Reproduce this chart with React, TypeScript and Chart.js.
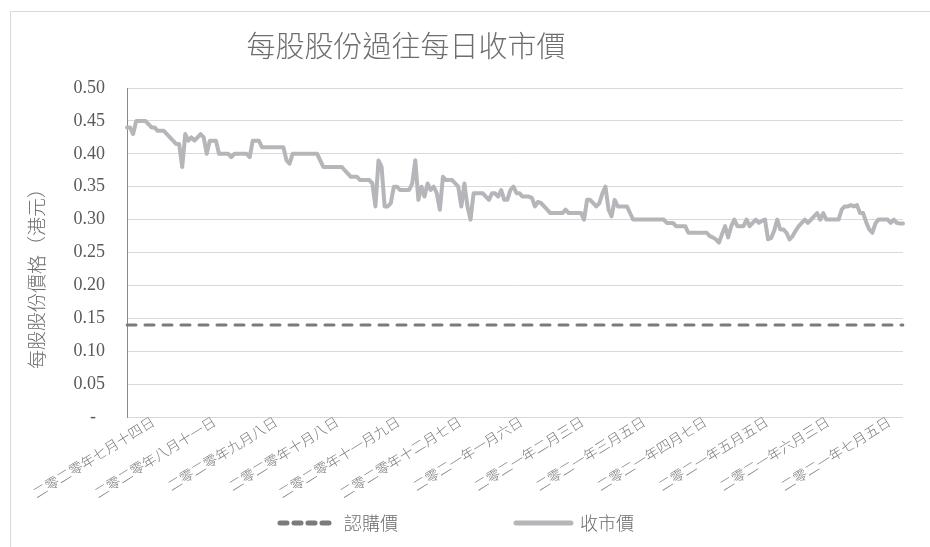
import React, { useEffect, useRef } from 'react';
import { Chart, registerables } from 'chart.js';

Chart.register(...registerables);

const CHART_TITLE = '每股股份過往每日收市價';
const Y_TITLE = '每股股份價格（港元）';
const SUBSCRIPTION_NAME = '認購價';
const CLOSING_NAME = '收市價';
const SUBSCRIPTION_PRICE = 0.14;

const TICK_EVERY = 20;
const TICK_LABELS = [
  '二零二零年七月十四日',
  '二零二零年八月十一日',
  '二零二零年九月八日',
  '二零二零年十月八日',
  '二零二零年十一月九日',
  '二零二零年十二月七日',
  '二零二一年一月六日',
  '二零二一年二月三日',
  '二零二一年三月五日',
  '二零二一年四月七日',
  '二零二一年五月五日',
  '二零二一年六月三日',
  '二零二一年七月五日',
];

const CLOSING_PRICES = [
  0.44, 0.44, 0.43, 0.45, 0.45, 0.45, 0.45, 0.445, 0.44, 0.44,
  0.435, 0.435, 0.435, 0.43, 0.425, 0.42, 0.415, 0.415, 0.38, 0.43,
  0.42, 0.425, 0.42, 0.425, 0.43, 0.425, 0.40, 0.42, 0.42, 0.42,
  0.40, 0.40, 0.40, 0.40, 0.395, 0.40, 0.40, 0.40, 0.40, 0.40,
  0.395, 0.42, 0.42, 0.42, 0.41, 0.41, 0.41, 0.41, 0.41, 0.41,
  0.41, 0.41, 0.39, 0.385, 0.40, 0.40, 0.40, 0.40, 0.40, 0.40,
  0.40, 0.40, 0.40, 0.39, 0.38, 0.38, 0.38, 0.38, 0.38, 0.38,
  0.38, 0.375, 0.37, 0.365, 0.365, 0.365, 0.36, 0.36, 0.36, 0.36,
  0.355, 0.32, 0.39, 0.38, 0.32, 0.32, 0.325, 0.35, 0.35, 0.345,
  0.345, 0.345, 0.345, 0.355, 0.39, 0.33, 0.35, 0.335, 0.355, 0.345,
  0.35, 0.34, 0.315, 0.365, 0.36, 0.36, 0.36, 0.355, 0.35, 0.32,
  0.355, 0.32, 0.30, 0.34, 0.34, 0.34, 0.34, 0.335, 0.33, 0.34,
  0.34, 0.335, 0.345, 0.33, 0.33, 0.345, 0.35, 0.34, 0.34, 0.335,
  0.335, 0.335, 0.333, 0.32, 0.327, 0.325, 0.32, 0.315, 0.31, 0.31,
  0.31, 0.31, 0.31, 0.315, 0.31, 0.31, 0.31, 0.31, 0.31, 0.30,
  0.33, 0.33, 0.325, 0.32, 0.325, 0.34, 0.35, 0.315, 0.305, 0.33,
  0.32, 0.32, 0.32, 0.32, 0.31, 0.30, 0.30, 0.30, 0.30, 0.30,
  0.30, 0.30, 0.30, 0.30, 0.30, 0.30, 0.295, 0.295, 0.295, 0.29,
  0.29, 0.29, 0.29, 0.28, 0.28, 0.28, 0.28, 0.28, 0.28, 0.28,
  0.275, 0.273, 0.27, 0.265, 0.278, 0.29, 0.273, 0.29, 0.30, 0.29,
  0.29, 0.29, 0.30, 0.29, 0.295, 0.30, 0.295, 0.298, 0.30, 0.27,
  0.272, 0.283, 0.30, 0.285, 0.285, 0.28, 0.27, 0.275, 0.283, 0.29,
  0.295, 0.30, 0.295, 0.30, 0.305, 0.31, 0.30, 0.31, 0.30, 0.30,
  0.30, 0.30, 0.30, 0.315, 0.32, 0.32, 0.322, 0.32, 0.322, 0.31,
  0.31, 0.296, 0.285, 0.28, 0.294, 0.30, 0.30, 0.30, 0.30, 0.295,
  0.30, 0.295, 0.294, 0.294,
];

const Y_MIN = 0;
const Y_MAX = 0.5;
const Y_STEP = 0.05;

const CJK = '"Noto Sans CJK TC", "Noto Sans CJK SC", "Noto Sans", sans-serif';
const SERIF = '"Liberation Serif", "Times New Roman", serif';

const CANVAS_W = 920;
const CANVAS_H = 536;

const titlesPlugin = {
  id: 'customTitles',
  afterDraw(chart: any) {
    const { ctx, chartArea } = chart;
    ctx.save();
    ctx.fillStyle = '#6e6e6e';
    ctx.textAlign = 'center';
    ctx.textBaseline = 'middle';
    ctx.font = `300 29px ${CJK}`;
    ctx.fillText(CHART_TITLE, 395, 34);
    ctx.font = `300 19px ${CJK}`;
    ctx.translate(26, chartArea.top + 186);
    ctx.rotate(-Math.PI / 2);
    ctx.fillText(Y_TITLE, 0, 0);
    ctx.restore();
  },
};

export default function App() {
  const canvasRef = useRef<HTMLCanvasElement | null>(null);

  useEffect(() => {
    const canvas = canvasRef.current;
    if (!canvas) return;
    const categories = CLOSING_PRICES.map((_, i) =>
      i % TICK_EVERY === 0 ? TICK_LABELS[i / TICK_EVERY] ?? '' : ''
    );
    const subscriptionLine = CLOSING_PRICES.map(() => SUBSCRIPTION_PRICE);

    const chart = new Chart(canvas, {
      type: 'line',
      data: {
        labels: categories,
        datasets: [
          {
            label: SUBSCRIPTION_NAME,
            data: subscriptionLine,
            borderColor: '#7b7b7b',
            backgroundColor: '#7b7b7b',
            borderWidth: 3,
            borderDash: [9, 9],
            borderCapStyle: 'round',
            pointRadius: 0,
            tension: 0,
          },
          {
            label: CLOSING_NAME,
            data: CLOSING_PRICES,
            borderColor: '#b5b6b9',
            backgroundColor: '#b5b6b9',
            borderWidth: 4,
            borderJoinStyle: 'round',
            borderCapStyle: 'round',
            pointRadius: 0,
            tension: 0,
          },
        ],
      },
      options: {
        responsive: false,
        animation: false,
        events: [],
        layout: { padding: { top: 76, left: 0, right: 28, bottom: 6 } },
        plugins: {
          title: { display: false },
          tooltip: { enabled: false },
          legend: {
            position: 'bottom',
            labels: {
              usePointStyle: true,
              pointStyle: 'line',
              pointStyleWidth: 55,
              padding: 10,
              color: '#6b6b6b',
              font: { family: CJK, size: 18, weight: '300' },
              generateLabels(ch: any) {
                const base = (Chart.defaults as any).plugins.legend.labels.generateLabels(ch);
                return base.map((item: any, idx: number) => ({
                  ...item,
                  pointStyle: 'line',
                  lineWidth: 5,
                  lineDash: idx === 0 ? [7, 7] : [],
                  lineCap: 'round',
                  text: idx === 0 ? item.text + '\u3000\u3000\u3000\u3000\u3000\u3000' : item.text,
                }));
              },
            },
          },
        },
        scales: {
          x: {
            grid: { display: false, drawTicks: false },
            border: { display: false },
            ticks: {
              autoSkip: false,
              minRotation: 32,
              maxRotation: 32,
              padding: -4,
              labelOffset: 26,
              color: '#7a7a7a',
              font: { family: CJK, size: 14, weight: '300' },
            },
            afterFit(scale: any) {
              scale.height = 87;
              scale.paddingLeft = 0;
              scale.paddingRight = 0;
            },
          },
          y: {
            min: Y_MIN,
            max: Y_MAX,
            grid: { color: '#d9d9d9', lineWidth: 1, drawTicks: false },
            border: { display: true, color: '#8a8a8a', width: 1 },
            ticks: {
              stepSize: Y_STEP,
              padding: 22,
              color: '#595959',
              font: { family: SERIF, size: 18 },
              callback: (v: any) => (Math.abs(Number(v)) < 1e-9 ? '-  ' : Number(v).toFixed(2)),
            },
            afterFit(scale: any) {
              scale.width = 116;
            },
          },
        },
      },
      plugins: [titlesPlugin],
    } as any);

    return () => chart.destroy();
  }, []);

  return (
    <div style={{ position: 'fixed', left: 0, top: 0, width: 930, height: 547, overflow: 'hidden', background: '#fff' }}>
      <div
        style={{
          position: 'absolute',
          left: 10,
          top: 11,
          width: 930,
          height: 545,
          border: '1px solid #d9d9d9',
          boxSizing: 'border-box',
        }}
      >
        <canvas
          ref={canvasRef}
          width={CANVAS_W}
          height={CANVAS_H}
          style={{ display: 'block', width: CANVAS_W, height: CANVAS_H }}
        />
      </div>
    </div>
  );
}
